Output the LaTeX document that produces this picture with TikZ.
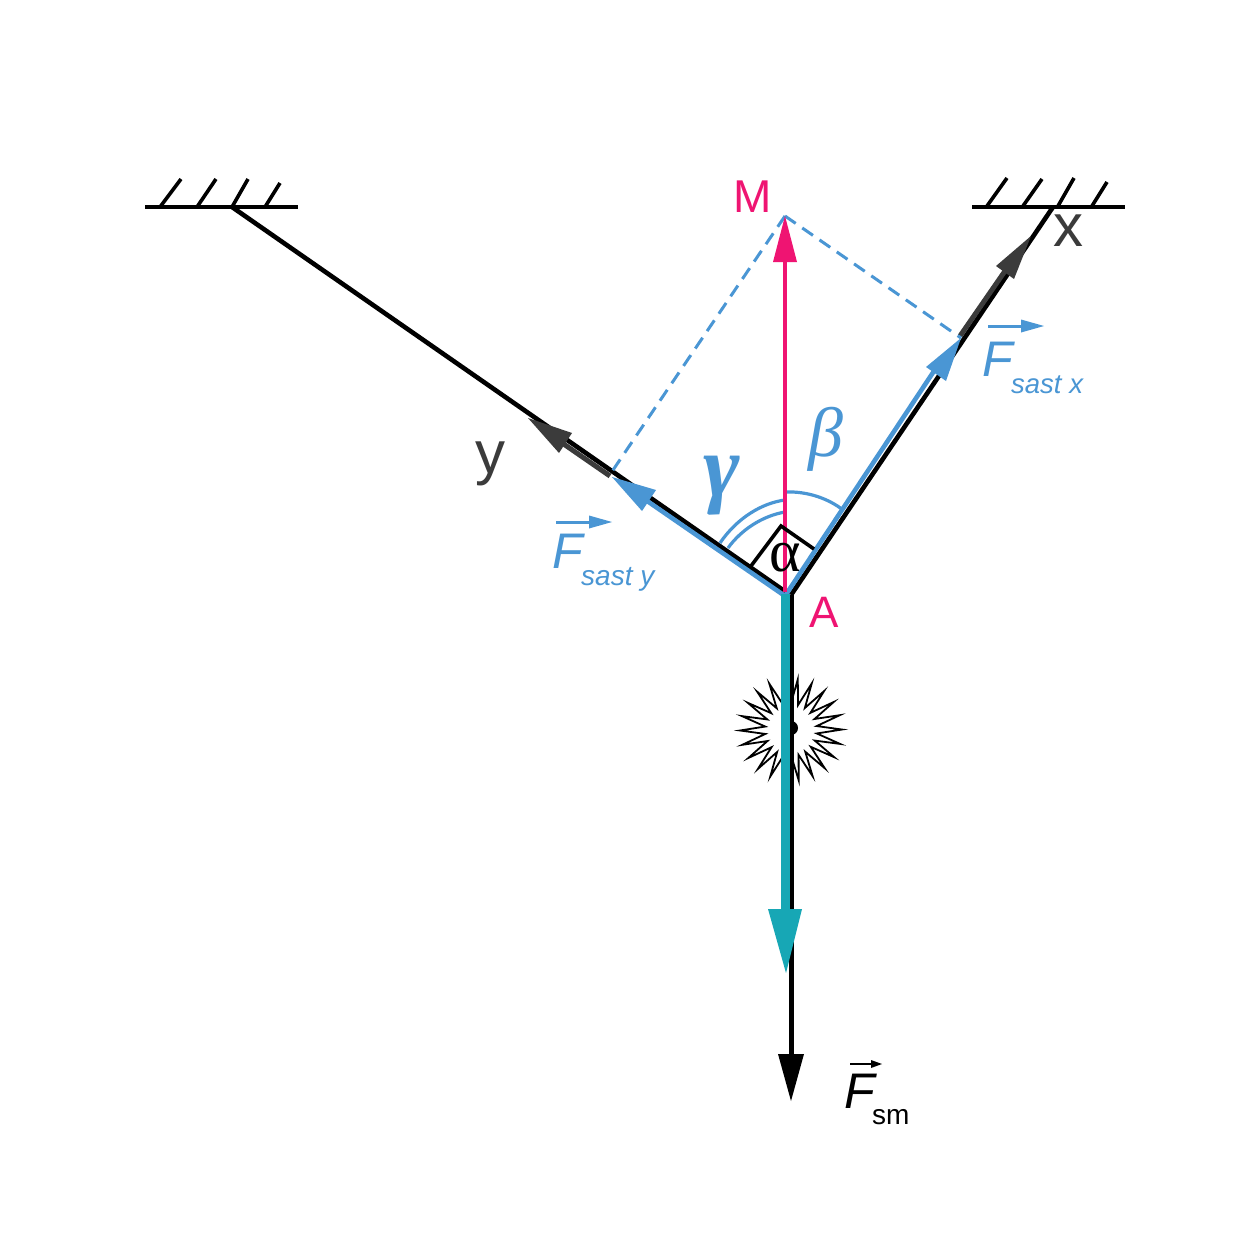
\documentclass[tikz,border=0pt]{standalone}
\usepackage{fontspec}
\setmainfont{Liberation Sans}
\newfontfamily\greekfont{Liberation Serif}
\definecolor{sblue}{HTML}{4A96D4}
\definecolor{spink}{HTML}{EF1472}
\definecolor{steal}{HTML}{17A7B5}
\definecolor{sgray}{HTML}{3B3B3B}
\tikzset{
  x=1pt,y=-1pt,
  wall/.style={black,line width=4pt},
  hatch/.style={black,line width=3.6pt},
  rope/.style={black,line width=4.6pt},
  lbl/.style={inner sep=0pt,anchor=base west,font=\fontsize{#1}{#1}\selectfont},
  ctr/.style={inner sep=0pt,anchor=base,font=\fontsize{#1}{#1}\selectfont},
  dashline/.style={sblue,line width=3pt,dash pattern=on 13pt off 8pt},
  arcline/.style={sblue,line width=3.2pt},
}
\begin{document}
\begin{tikzpicture}
\useasboundingbox (0,0) rectangle (1251,1250);
\fill[white] (0,0) rectangle (1251,1250);
% named points
\coordinate (A) at (791,595);
\coordinate (Ab) at (785,596);
\coordinate (M) at (785,216);
\coordinate (WL) at (232,207);
\coordinate (WR) at (1053,207);
\coordinate (Dy) at (611,473);
\coordinate (Dx) at (961,338);
\coordinate (Sm) at (791,1060);
\coordinate (star) at (791,730);
% star
\draw[shift={(star)},black,line width=1.8pt,line join=miter,miter limit=12,fill=white]
  plot[samples at={0,...,43}] ({(mod(\x,2)==0?51:26)*cos(114+\x*8.182)},{(mod(\x,2)==0?51:26)*sin(114+\x*8.182)}) -- cycle;
\fill[black] (star)++(0,-2) circle (7);
% walls
\draw[wall] (145,207) -- (298,207);
\draw[wall] (972,207) -- (1125,207);
\draw[hatch] (160,207)--(181,179) (197,207)--(216,179) (232,207)--(248,179) (265,207)--(280,183);
\draw[hatch] (987,206)--(1007,178) (1023,206)--(1042,179) (1058,206)--(1074,178) (1092,206)--(1107,182);
% ropes
\draw[rope] (WL) -- (788,593.5);
\draw[rope] (WR) -- (A);
% gray axis arrows
\draw[sgray,line width=5pt] (Dy)++(-1,3) -- (555,438);
\fill[sgray] (528,418) -- (572,433) -- (559,453) -- cycle;
\draw[sgray,line width=5pt] (Dx)++(-1,-2) -- (1005,271);
\fill[sgray] (1031,236) -- (996,266) -- (1014,279) -- cycle;
% angle arcs
\draw[arcline] (785,492) .. controls (808,491) and (829,499) .. (843,510);
\draw[arcline] (720,543) .. controls (737,518) and (762,503) .. (785,500);
\draw[arcline] (728,548) .. controls (741,530) and (762,516) .. (785,512);
% blue components
\draw[sblue,line width=4.6pt] (Ab) -- (645,499.5);
\fill[sblue] (612,477) -- (656,490) -- (642,511) -- cycle;
\draw[sblue,line width=4.6pt] (Ab) -- (936,368);
\fill[sblue] (961,338) -- (926,367) -- (946,381) -- cycle;
% dashed parallelogram
\draw[dashline] (M) -- (Dy);
\draw[dashline] (M) -- (Dx);
% resultant
\draw[spink,line width=4pt] (785,592) -- (785,258);
\fill[spink] (M) -- (773,262) -- (797,262) -- cycle;
% right angle mark
\draw[black,line width=3.6pt,line join=miter] (751,566) -- (781,526) -- (814,549);
% weight
\draw[black,line width=5pt] (A) -- (Sm);
\fill[black] (791,1101) -- (778,1054) -- (804,1054) -- cycle;
\draw[steal,line width=9pt] (785.5,594) -- (785.5,915);
\fill[steal] (786,973) -- (768,909) -- (802,909) -- cycle;
% labels
\node[lbl=46,text=spink] (lM) at (733,212) {M};
\node[lbl=44,text=spink] (lA) at (809,627) {A};
\node[lbl=60,text=sgray] (lx) at (1053,246) {x};
\node[lbl=60,text=sgray] (ly) at (475,473) {y};
\node[ctr=78,text=sblue,font=\fontsize{88}{88}\selectfont\greekfont\bfseries\itshape] (lg) at (722,496) {γ};
\node[ctr=68,text=sblue,font=\fontsize{70}{70}\selectfont\greekfont\itshape] (lb) at (826,456) {β};
\node[ctr=52,text=black,font=\fontsize{60}{60}\selectfont\greekfont] (la) at (785,571) {α};
% F sast x
\node[lbl=49,text=sblue,font=\fontsize{50}{50}\selectfont\itshape] (Fx) at (982,376) {F};
\node[lbl=27.5,text=sblue,font=\fontsize{27.5}{27.5}\selectfont\itshape] (Fxs) at (1011,393) {sast x};
\draw[sblue,line width=3pt] (988,326) -- (1022,326);
\fill[sblue] (1044,326) -- (1021,319.5) -- (1021,332.5) -- cycle;
% F sast y
\node[lbl=49,text=sblue,font=\fontsize{50}{50}\selectfont\itshape] (Fy) at (552,568) {F};
\node[lbl=27.5,text=sblue,font=\fontsize{28}{28}\selectfont\itshape] (Fys) at (581,585) {sast y};
\draw[sblue,line width=3pt] (556,522) -- (590,522);
\fill[sblue] (612,522) -- (589,515.5) -- (589,528.5) -- cycle;
% F sm
\node[lbl=50,text=black,font=\fontsize{50}{50}\selectfont\itshape] (Fs) at (844,1108) {F};
\node[lbl=28,text=black] (Fss) at (872,1124) {sm};
\draw[black,line width=1.6pt] (850,1064) -- (873,1064);
\fill[black] (882,1064) -- (871,1060) -- (871,1068) -- cycle;
\end{tikzpicture}
\end{document}
